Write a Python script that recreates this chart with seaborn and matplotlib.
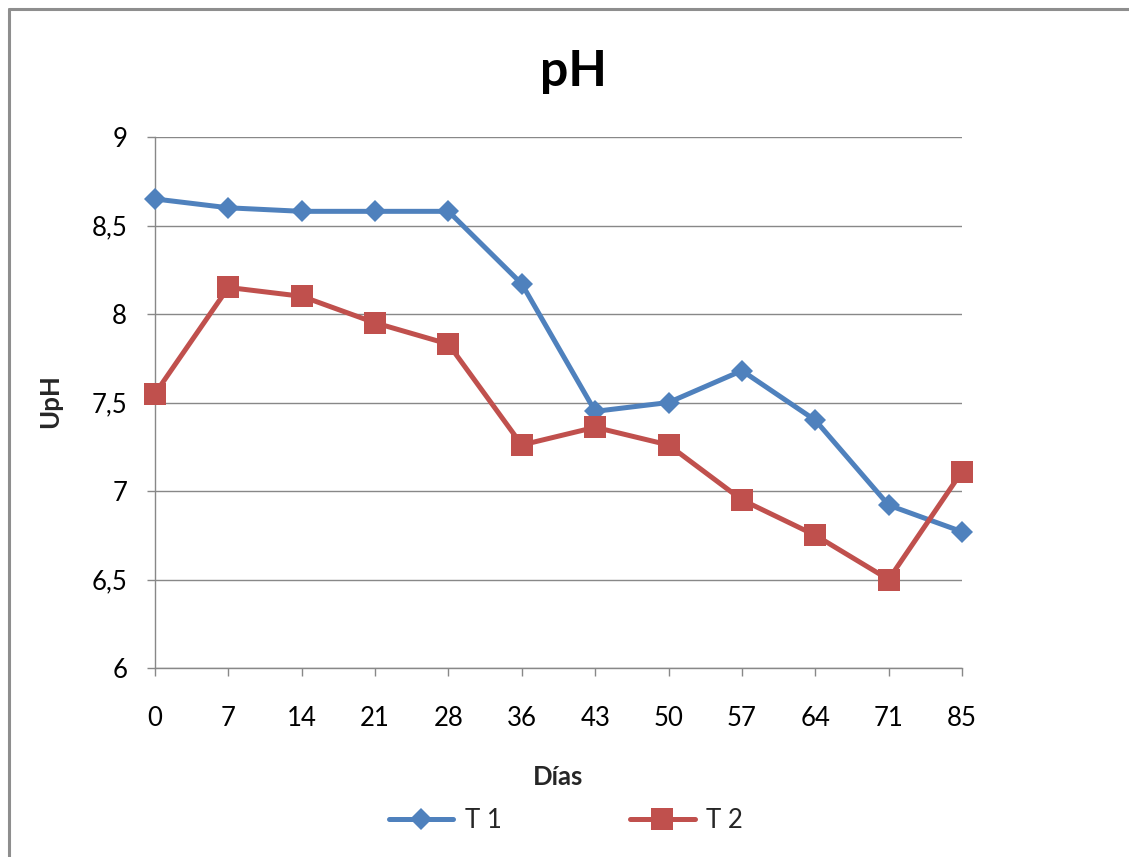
import matplotlib
matplotlib.use("Agg")
import matplotlib.pyplot as plt
from matplotlib.lines import Line2D
import seaborn as sns
import pandas as pd

days = ["0", "7", "14", "21", "28", "36", "43", "50", "57", "64", "71", "85"]
t1 = [8.65, 8.60, 8.58, 8.58, 8.58, 8.17, 7.45, 7.50, 7.68, 7.40, 6.92, 6.77]
t2 = [7.55, 8.15, 8.10, 7.95, 7.83, 7.26, 7.36, 7.26, 6.95, 6.75, 6.50, 7.11]
yticks = [6, 6.5, 7, 7.5, 8, 8.5, 9]
ytick_labels = ["6", "6,5", "7", "7,5", "8", "8,5", "9"]
title = "pH"
xlabel = "Días"
ylabel = "UpH"

BLUE = "#4F81BD"
RED = "#C0504D"
GRID = "#888888"
FONT = ["Lato", "DejaVu Sans"]
FS = 18.5

sns.set_theme(style="white")
plt.rcParams["font.family"] = FONT

W, H = 1129, 857
fig = plt.figure(figsize=(W / 100, H / 100), dpi=100)
ax = fig.add_axes([155 / W, 1 - 668 / H, (962 - 155) / W, (668 - 137) / H])

pos = list(range(len(days)))
df1 = pd.DataFrame({"x": pos, "y": t1})
df2 = pd.DataFrame({"x": pos, "y": t2})

sns.lineplot(data=df1, x="x", y="y", ax=ax, color=BLUE, linewidth=3.6,
             marker="D", markersize=11, markeredgecolor=BLUE,
             markeredgewidth=0, label="T 1", zorder=3, clip_on=False)
sns.lineplot(data=df2, x="x", y="y", ax=ax, color=RED, linewidth=3.6,
             marker="s", markersize=15.5, markeredgecolor=RED,
             markeredgewidth=0, label="T 2", zorder=4, clip_on=False)

ax.set_xlim(0, len(days) - 1)
ax.set_ylim(6, 9)
ax.set_xticks(pos)
ax.set_xticklabels(days)
ax.set_yticks(yticks)
ax.set_yticklabels(ytick_labels)

ax.grid(axis="y", color=GRID, linewidth=1.0)
ax.grid(axis="x", visible=False)
for s in ["top", "right"]:
    ax.spines[s].set_visible(False)
for s in ["left", "bottom"]:
    ax.spines[s].set_color(GRID)
    ax.spines[s].set_linewidth(1.0)
ax.set_axisbelow(True)

ax.tick_params(axis="both", which="major", direction="out", length=6,
               width=1.0, color=GRID, labelsize=FS, labelcolor="black",
               left=True, bottom=True)
ax.tick_params(axis="y", pad=14)
ax.tick_params(axis="x", pad=21)

ax.set_xlabel(xlabel, fontsize=FS, fontweight="bold", va="baseline")
ax.xaxis.set_label_coords(0.5, (668 - 785) / 531)
ax.set_ylabel(ylabel, fontsize=FS, fontweight="bold", va="center")
ax.yaxis.set_label_coords((50 - 155) / 807, (668 - 401) / 531)

fig.text(573 / W, 1 - 86 / H, title, ha="center", va="baseline",
         fontsize=36, fontweight="bold", color="black")

leg = ax.legend(loc="center", bbox_to_anchor=(566 / W, 1 - 820 / H),
                bbox_transform=fig.transFigure, ncol=2, frameon=False,
                fontsize=FS, handlelength=2.5, handletextpad=0.45,
                columnspacing=5.0)

fig.add_artist(Line2D([9 / W, 9 / W], [0, 1 - 9 / H], transform=fig.transFigure,
                      color="#8E8E8E", linewidth=2.2))
fig.add_artist(Line2D([9 / W, 1], [1 - 9 / H, 1 - 9 / H], transform=fig.transFigure,
                      color="#8E8E8E", linewidth=2.2))

fig.savefig("out.png", dpi=100, facecolor="white")
